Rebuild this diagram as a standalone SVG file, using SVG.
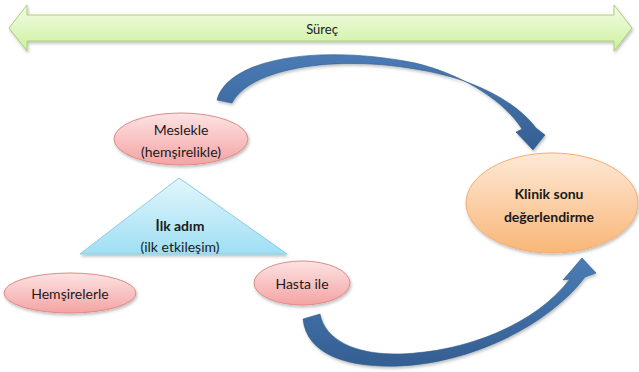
<svg xmlns="http://www.w3.org/2000/svg" width="639" height="372" viewBox="0 0 639 372">
<defs>
<linearGradient id="gGreen" x1="0" y1="0" x2="0" y2="1"><stop offset="0" stop-color="#f3fde6"/><stop offset="1" stop-color="#cdf09e"/></linearGradient>
<linearGradient id="gPink" x1="0" y1="0" x2="0" y2="1"><stop offset="0" stop-color="#fde3e3"/><stop offset="1" stop-color="#f4a3a3"/></linearGradient>
<linearGradient id="gOrange" x1="0" y1="0" x2="0" y2="1"><stop offset="0" stop-color="#fee9d7"/><stop offset="1" stop-color="#f9b677"/></linearGradient>
<linearGradient id="gBlue" x1="0" y1="0" x2="0" y2="1"><stop offset="0" stop-color="#e2f6fc"/><stop offset="1" stop-color="#9fdff4"/></linearGradient>
<linearGradient id="gArrow" x1="0" y1="0" x2="0" y2="1"><stop offset="0" stop-color="#4a7bb5"/><stop offset="1" stop-color="#355f92"/></linearGradient>
<filter id="sh" x="-10%" y="-10%" width="120%" height="130%"><feDropShadow dx="1" dy="2" stdDeviation="1.5" flood-color="#000" flood-opacity="0.25"/></filter>
</defs>
<style>
.pink{fill:url(#gPink);stroke:#de8b89;stroke-width:1;filter:url(#sh)}
.t{font-family:Lato,"Liberation Sans",sans-serif;font-size:14px;fill:#1a1a1a;text-anchor:middle;dominant-baseline:central}
.b{font-weight:bold}
.arrow{fill:url(#gArrow);stroke:#2f5a8a;stroke-width:0.6;filter:url(#sh)}
</style>
<rect width="639" height="372" fill="#ffffff"/>

<g id="connectors">
<path class="arrow" d="M217,100 C228,58 320,44 415,63 C465,75 505,102 522,129 L516,132 L533,150 L545,135 L536,128 C514,99 468,77 415,69 C335,55 250,68 232,103 Z"/>
<path class="arrow" d="M303,319 C307,356 350,368 400,366 C470,363 548,326 585,277 L596,273 L582,258 L563,280 L570,279 C535,325 465,352 400,354 C355,355 325,340 320,314 Z"/>
</g>

<g id="surec">
<path d="M9,28 L27,5 L27,15 L614,15 L614,5 L632,28 L614,51 L614,41 L27,41 L27,51 Z" fill="url(#gGreen)" stroke="#a9cf79" stroke-width="1" filter="url(#sh)"/>
<text class="t" x="322" y="29" style="font-size:13px">Süreç</text>
</g>

<g id="meslekle">
<ellipse class="pink" cx="181" cy="139" rx="67" ry="26"/>
<text class="t" x="181" y="129">Meslekle</text>
<text class="t" x="181" y="151">(hemşirelikle)</text>
</g>

<g id="ilk-adim">
<path d="M179,178 L287,254 L80,254 Z" fill="url(#gBlue)" stroke="#8ccde4" stroke-width="1" filter="url(#sh)"/>
<text class="t b" x="180" y="225">İlk adım</text>
<text class="t" x="180" y="246">(ilk etkileşim)</text>
</g>

<g id="hemsirelerle">
<ellipse class="pink" cx="70" cy="293" rx="66" ry="20"/>
<text class="t" x="70" y="293">Hemşirelerle</text>
</g>

<g id="hasta-ile">
<ellipse class="pink" cx="302" cy="283" rx="48" ry="22"/>
<text class="t" x="302" y="283">Hasta ile</text>
</g>

<g id="klinik">
<ellipse cx="552" cy="203" rx="86" ry="50" fill="url(#gOrange)" stroke="#f2ae72" stroke-width="1" filter="url(#sh)"/>
<text class="t b" x="549" y="193">Klinik sonu</text>
<text class="t b" x="549" y="216">değerlendirme</text>
</g>
</svg>
